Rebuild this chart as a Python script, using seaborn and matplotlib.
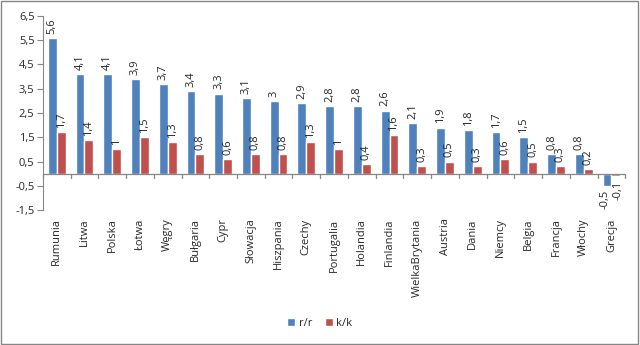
import matplotlib
matplotlib.use("Agg")
import matplotlib.pyplot as plt
import seaborn as sns
import pandas as pd
from matplotlib.ticker import FuncFormatter
from matplotlib.patches import Rectangle

countries = ["Rumunia", "Litwa", "Polska", "Łotwa", "Węgry", "Bułgaria", "Cypr",
             "Słowacja", "Hiszpania", "Czechy", "Portugalia", "Holandia", "Finlandia",
             "WielkaBrytania", "Austria", "Dania", "Niemcy", "Belgia", "Francja",
             "Włochy", "Grecja"]
rr = [5.6, 4.1, 4.1, 3.9, 3.7, 3.4, 3.3, 3.1, 3.0, 2.9, 2.8, 2.8, 2.6, 2.1,
      1.9, 1.8, 1.7, 1.5, 0.8, 0.8, -0.5]
kk = [1.7, 1.4, 1.0, 1.5, 1.3, 0.8, 0.6, 0.8, 0.8, 1.3, 1.0, 0.4, 1.6, 0.3,
      0.5, 0.3, 0.6, 0.5, 0.3, 0.2, -0.1]
series = ["r/r", "k/k"]
yticks = [6.5, 5.5, 4.5, 3.5, 2.5, 1.5, 0.5, -0.5, -1.5]

sns.set_style("white")
plt.rcParams['font.family'] = ['Open Sans', 'DejaVu Sans']

df = pd.DataFrame({
    "kraj": countries * 2,
    "seria": [series[0]] * len(countries) + [series[1]] * len(countries),
    "wartosc": rr + kk,
})

def fmt(v):
    s = f"{v:g}"
    return s.replace(".", ",")

fig = plt.figure(figsize=(6.4, 3.45), dpi=100)
ax = fig.add_axes([0.067, 0.391, 0.910, 0.563])
sns.barplot(data=df, x="kraj", y="wartosc", hue="seria", order=countries,
            hue_order=series, palette=["#4F81BD", "#C0504D"], width=0.64,
            saturation=1, ax=ax, errorbar=None, legend=True)

ax.set_ylim(-1.5, 6.5)
ax.set_xlim(-0.5, len(countries) - 0.5)
ax.set_yticks(yticks)
ax.yaxis.set_major_formatter(FuncFormatter(lambda v, p: fmt(round(v, 1))))
ax.tick_params(axis='y', labelsize=8, length=4, color="#868686", direction='out',
               left=True, pad=2)
ax.tick_params(axis='x', labelsize=8, length=0, pad=6, labelrotation=90)
ax.set_xlabel("")
ax.set_ylabel("")
for s in ["top", "right", "bottom"]:
    ax.spines[s].set_visible(False)
ax.spines["left"].set_color("#868686")

# zero axis line with category tick marks
ax.axhline(0, color="#868686", lw=0.9, zorder=3)
for i in range(len(countries) + 1):
    ax.plot([i - 0.5, i - 0.5], [0, -0.17], color="#868686", lw=0.9,
            zorder=3, clip_on=False)

# data labels from bar patches
for ci, cont in enumerate(ax.containers):
    for bar, v in zip(cont, cont.datavalues):
        x = bar.get_x() + bar.get_width() / 2
        if v >= 0:
            ax.annotate(fmt(v), (x, v), xytext=(0, 3), textcoords="offset points",
                        rotation=90, ha="center", va="bottom", fontsize=8)
        else:
            dx = -1.5 if ci == 0 else 1.5
            ax.annotate(fmt(v), (x, v), xytext=(dx, -3), textcoords="offset points",
                        rotation=90, ha="center", va="top", fontsize=8)

leg = ax.legend(loc="center", bbox_to_anchor=(0.5, 0.063),
                bbox_transform=fig.transFigure, ncol=2, frameon=False,
                fontsize=8, handlelength=0.7, handleheight=0.7,
                handletextpad=0.3, columnspacing=1.2)

fig.patches.append(Rectangle((0.002, 0.003), 0.995, 0.993, transform=fig.transFigure,
                             fill=False, edgecolor="#868686", lw=1))

fig.savefig("out.png", dpi=100)
